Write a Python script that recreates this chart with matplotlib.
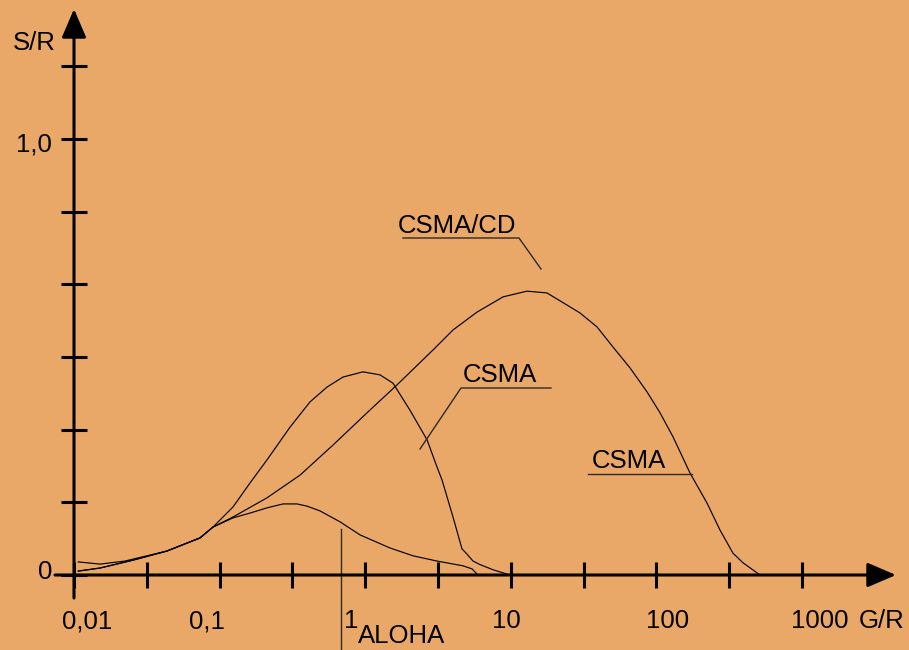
import numpy as np
import matplotlib
matplotlib.use("Agg")
import matplotlib.pyplot as plt
from matplotlib.ticker import NullLocator

plt.rcParams['font.family'] = ['Liberation Sans', 'DejaVu Sans']

# ---------------- data ----------------
aloha_x = [0.0107, 0.0151, 0.0254, 0.0435, 0.0733, 0.0901, 0.1236, 0.1617,
           0.2116, 0.2725, 0.340, 0.3984, 0.4894, 0.6713, 0.921, 1.48, 2.13,
           3.11, 4.70, 5.42, 5.86]
aloha_s = [0.009, 0.016, 0.034, 0.055, 0.085, 0.110, 0.131, 0.142,
           0.154, 0.163, 0.163, 0.158, 0.147, 0.122, 0.092, 0.062, 0.044,
           0.032, 0.021, 0.014, 0.002]

csma_x = [0.0107, 0.0151, 0.0254, 0.0435, 0.0733, 0.0901, 0.1236, 0.1617,
          0.2116, 0.3044, 0.4177, 0.5466, 0.7037, 0.966, 1.264, 1.552, 2.03,
          2.66, 3.11, 3.37, 4.01, 4.62, 5.0, 5.5, 6.14, 7.55, 9.88]
csma_s = [0.009, 0.016, 0.034, 0.055, 0.085, 0.110, 0.156, 0.211,
          0.264, 0.339, 0.397, 0.431, 0.454, 0.466, 0.459, 0.440, 0.378,
          0.310, 0.248, 0.218, 0.133, 0.060, 0.048, 0.032, 0.024, 0.012, 0.0]

csmacd_x = [0.0107, 0.0151, 0.0224, 0.0435, 0.0733, 0.0901, 0.1236, 0.2116,
            0.3566, 0.6009, 1.029, 1.653, 2.92, 4.01, 5.86, 8.86, 12.9, 17.7,
            25.5, 29.87, 39.1, 50.3, 65.9, 86.2, 105.9, 130.0, 170.1, 222.6,
            273.5, 335.8, 393.4, 514.6]
csmacd_s = [0.030, 0.025, 0.032, 0.055, 0.085, 0.110, 0.133, 0.177,
            0.229, 0.298, 0.372, 0.436, 0.516, 0.562, 0.603, 0.638, 0.651, 0.647,
            0.615, 0.601, 0.569, 0.523, 0.475, 0.420, 0.372, 0.317, 0.234, 0.165,
            0.103, 0.050, 0.028, 0.0]

x_ticks = [0.01, 0.0316, 0.1, 0.316, 1, 3.16, 10, 31.6, 100, 316, 1000]
x_label_vals = [0.01, 0.1, 1, 10, 100, 1000]
x_label_txt = ["0,01", "0,1", "1", "10", "100", "1000"]
y_ticks = [k / 6 for k in range(8)]
y_label_vals = [0.0, 1.0]
y_label_txt = ["0", "1,0"]

# ---------------- style ----------------
BG = '#E9A867'
FS = 18.5
x_lab_dx = [13, -13, -14, -4, 11, 18]   # pixel offsets of the x labels

fig = plt.figure(figsize=(9.09, 6.5), dpi=100, facecolor=BG)
ax = fig.add_axes([0, 0, 1, 1])
ax.set_facecolor(BG)
ax.set_xscale('log')
ax.set_xlim(10 ** (-2 - 74 / 145.6), 10 ** (-2 + 835 / 145.6))
ax.set_ylim((575 - 650) / 436, 575 / 436)

for sp in ax.spines.values():
    sp.set_visible(False)
ax.spines['left'].set_position(('data', 0.01))
ax.spines['bottom'].set_position(('data', 0.0))

ax.set_xticks(x_ticks)
ax.xaxis.set_minor_locator(NullLocator())
ax.set_yticks(y_ticks)
ax.tick_params(axis='both', direction='inout', length=18.5, width=2.2,
               color='black', labelbottom=False, labelleft=False,
               bottom=True, left=True, top=False, right=False)

# axis lines with arrow heads
arrow_kw = dict(arrowstyle='-|>,head_length=1.75,head_width=0.75',
                lw=2.2, color='black', shrinkA=0, shrinkB=0,
                mutation_scale=10)
ax.annotate('', xy=(0.01, (575 - 9) / 436), xytext=(0.01, (575 - 598) / 436),
            arrowprops=arrow_kw)
ax.annotate('', xy=(10 ** (-2 + 822 / 145.6), 0),
            xytext=(10 ** (-2 - 19 / 145.6), 0), arrowprops=arrow_kw)

# curves
for xs, ss in [(aloha_x, aloha_s), (csma_x, csma_s), (csmacd_x, csmacd_s)]:
    ax.plot(xs, ss, color='black', lw=0.85, solid_joinstyle='round')

# tick labels
for v, t, dx in zip(x_label_vals, x_label_txt, x_lab_dx):
    ax.annotate(t, xy=(v, 0), xytext=(dx, -53), textcoords='offset pixels',
                ha='center', va='baseline', fontsize=FS)
ax.annotate("G/R", xy=(1000, 0), xytext=(80, -53), textcoords='offset pixels',
            ha='center', va='baseline', fontsize=FS)
for v, t in zip(y_label_vals, y_label_txt):
    off = -4 if v == 0 else -13
    ax.annotate(t, xy=(0.01, v), xytext=(-22, off), textcoords='offset pixels',
                ha='right', va='baseline', fontsize=FS)
ax.annotate("S/R", xy=(0.01, (575 - 50) / 436), xytext=(-40, 0),
            textcoords='offset pixels', ha='center', va='baseline', fontsize=FS)

# annotation labels
def px2x(px):
    return 10 ** (-2 + (px - 74) / 145.6)

def py2s(py):
    return (575 - py) / 436

lc = '#2a2a2a'
ax.text(px2x(398), py2s(233), "CSMA/CD", fontsize=FS, ha='left', va='baseline')
ax.plot([px2x(403), px2x(519), px2x(541)], [py2s(238), py2s(238), py2s(269)],
        color=lc, lw=1.0)

ax.text(px2x(463), py2s(382), "CSMA", fontsize=FS, ha='left', va='baseline')
ax.plot([px2x(420), px2x(461), px2x(551)], [py2s(449), py2s(388), py2s(388)],
        color=lc, lw=1.0)

ax.text(px2x(592), py2s(468), "CSMA", fontsize=FS, ha='left', va='baseline')
ax.plot([px2x(588), px2x(692)], [py2s(474), py2s(474)], color=lc, lw=1.0)

ax.plot([px2x(341), px2x(341)], [py2s(529), py2s(652)], color=lc, lw=1.0)
ax.text(px2x(358), py2s(643), "ALOHA", fontsize=FS, ha='left', va='baseline')

fig.savefig('out.png', dpi=100, facecolor=BG)
